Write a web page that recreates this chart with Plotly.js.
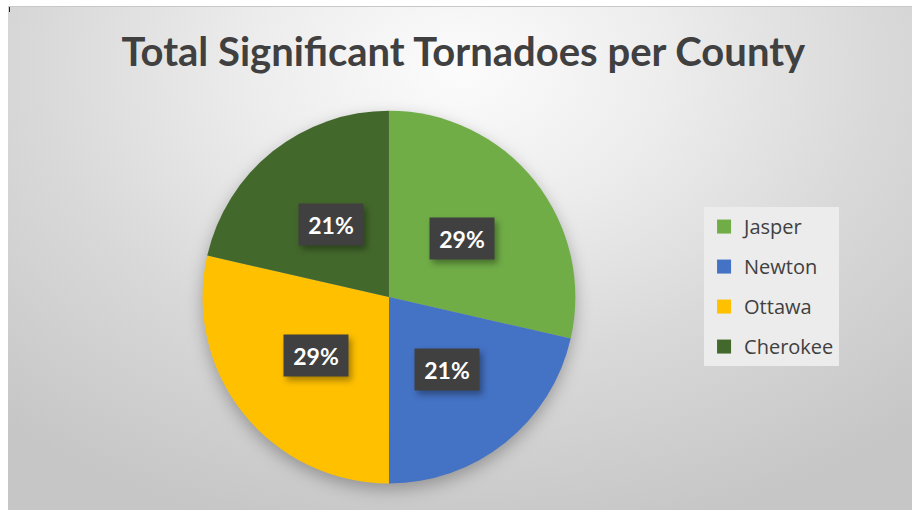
<!DOCTYPE html>
<html>
<head>
<meta charset="utf-8">
<script src="https://cdn.plot.ly/plotly-3.0.1.min.js"></script>
<style>
  html, body { margin: 0; padding: 0; background: #ffffff; }
  #bg { position: absolute; left: 8px; top: 6px; width: 904px; height: 504px;
        background: radial-gradient(ellipse 75% 95% at 50% 12%, #fcfcfc 0%, #ededed 30%, #d9d9d9 62%, #c6c6c6 100%);
        border-top: 1px solid #c8c8c8; }
  #tick { position: absolute; left: 9px; top: 7px; width: 1px; height: 5px; background: #222; }
  #chart { position: absolute; left: 0; top: 0; width: 912px; height: 510px; }
  .pielayer { filter: drop-shadow(0px 6px 8px rgba(0,0,0,0.28)); }
  .annotation .bg { filter: drop-shadow(3px 4px 3px rgba(0,0,0,0.35)); }
</style>
</head>
<body>
<div id="bg"></div>
<div id="tick"></div>
<div id="chart"></div>
<script>
// ---- data ----
const counties = ["Jasper", "Newton", "Ottawa", "Cherokee"];
const tornadoCounts = [4, 3, 4, 3];
const sliceColors = ["#70ad47", "#4472c4", "#ffc000", "#43682b"];
const chartTitle = "Total Significant Tornadoes per County";

// ---- layout constants ----
const W = 912, H = 510;
const pieDomainX = [0.222, 0.631];
const pieDomainY = [0.052, 0.783];
const cxPx = (pieDomainX[0] + pieDomainX[1]) / 2 * W;
const cyPx = H - (pieDomainY[0] + pieDomainY[1]) / 2 * H;
const radiusPx = Math.min((pieDomainX[1] - pieDomainX[0]) * W, (pieDomainY[1] - pieDomainY[0]) * H) / 2;
const labelFrac = 0.5;

const total = tornadoCounts.reduce((a, b) => a + b, 0);

const traces = [{
  type: "pie",
  labels: counties,
  values: tornadoCounts,
  marker: { colors: sliceColors, line: { width: 0 } },
  sort: false,
  direction: "clockwise",
  rotation: 0,
  textinfo: "none",
  hoverinfo: "label+percent",
  domain: { x: pieDomainX, y: pieDomainY },
  showlegend: false
}];

// legend entries (no plotted points) so spacing can be controlled
counties.forEach((c, i) => {
  traces.push({
    type: "scatter", mode: "markers",
    x: [null], y: [null],
    name: c,
    legendgroup: "g" + i,
    marker: { symbol: "square", size: 14, color: sliceColors[i] },
    showlegend: true,
    hoverinfo: "skip"
  });
});

// percentage label boxes placed at the middle angle of each slice
const annotations = [];
let cum = 0;
tornadoCounts.forEach((v, i) => {
  const mid = (cum + v / 2) / total * 2 * Math.PI;
  cum += v;
  const px = cxPx + labelFrac * radiusPx * Math.sin(mid);
  const py = cyPx - labelFrac * radiusPx * Math.cos(mid);
  annotations.push({
    xref: "paper", yref: "paper",
    x: px / W, y: 1 - py / H,
    xanchor: "center", yanchor: "middle",
    text: Math.round(v / total * 100) + "%",
    showarrow: false,
    font: { family: "Lato, 'Open Sans', sans-serif", size: 23, color: "#ffffff", weight: 700 },
    bgcolor: "#404040",
    width: 60, height: 37, borderpad: 2
  });
});

const layout = {
  width: W, height: H,
  margin: { l: 0, r: 0, t: 0, b: 0 },
  paper_bgcolor: "rgba(0,0,0,0)",
  plot_bgcolor: "rgba(0,0,0,0)",
  title: {
    text: chartTitle,
    x: 0.508, xanchor: "center",
    y: 0.898, yanchor: "middle",
    font: { family: "Lato, 'Open Sans', sans-serif", size: 40, color: "#404040", weight: 700 }
  },
  xaxis: { visible: false },
  yaxis: { visible: false },
  showlegend: true,
  legend: {
    x: 0.772, xanchor: "left",
    y: 0.594, yanchor: "top",
    bgcolor: "#ececec",
    borderwidth: 0,
    tracegroupgap: 11,
    itemwidth: 30,
    font: { family: "'Open Sans', Lato, sans-serif", size: 20, color: "#404040" },
    traceorder: "grouped"
  },
  annotations: annotations,
  hovermode: false
};

Plotly.newPlot("chart", traces, layout, { displayModeBar: false, staticPlot: true });
</script>
</body>
</html>
